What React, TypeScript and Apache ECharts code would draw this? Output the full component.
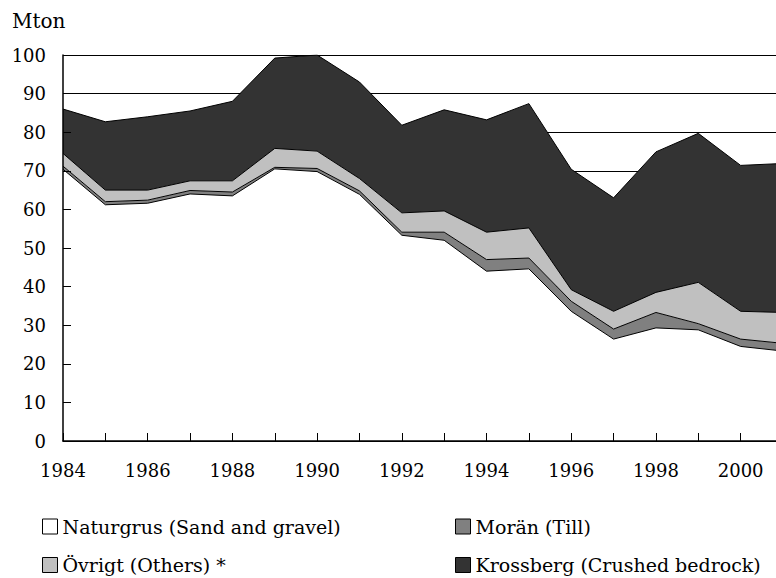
import React, { useEffect, useRef } from "react";
import * as echarts from "echarts";

const years = ["1984","1985","1986","1987","1988","1989","1990","1991","1992","1993","1994","1995","1996","1997","1998","1999","2000","2001"];
const naturgrus = [70.4, 61.2, 61.6, 64.0, 63.5, 70.5, 69.8, 63.9, 53.3, 52.0, 44.0, 44.6, 33.6, 26.4, 29.3, 28.8, 24.5, 23.3];
const moran = [0.8, 0.8, 0.8, 0.9, 1.0, 0.4, 0.8, 0.9, 0.8, 2.1, 3.0, 2.8, 2.6, 2.6, 4.0, 1.6, 1.9, 2.0];
const ovrigt = [3.3, 3.0, 2.6, 2.5, 2.9, 4.9, 4.5, 3.2, 5.0, 5.5, 7.1, 7.8, 3.0, 4.6, 5.2, 10.7, 7.2, 8.0];
const krossberg = [11.5, 17.7, 19.0, 18.1, 20.6, 23.4, 24.9, 25.0, 22.7, 26.2, 29.1, 32.2, 31.2, 29.4, 36.4, 38.6, 37.8, 38.6];

const names = ["Naturgrus (Sand and gravel)", "Morän (Till)", "Övrigt (Others) *", "Krossberg (Crushed bedrock)"];
const colors = ["#ffffff", "#808080", "#c0c0c0", "#333333"];

const FONT = "DejaVu Serif";

export default function App() {
  const ref = useRef<HTMLDivElement>(null);
  useEffect(() => {
    if (!ref.current) return;
    const chart = echarts.init(ref.current, undefined, { renderer: "svg" });
    const seriesData = [naturgrus, moran, ovrigt, krossberg];
    const legendItem = (i: number) => ({
      name: names[i],
      itemStyle: { color: colors[i], borderColor: "#000", borderWidth: 1 },
    });
    const legendBase = {
      orient: "vertical" as const,
      top: 517,
      height: 80,
      width: 330,
      padding: 0,
      itemWidth: 15,
      itemHeight: 15,
      itemGap: 19.5,
      icon: "rect",
      selectedMode: false,
      textStyle: { fontFamily: FONT, fontSize: 19, color: "#000" },
    };
    chart.setOption({
      animation: false,
      backgroundColor: "#fff",
      grid: { left: 63, right: -7, top: 55, bottom: 137, outerBoundsMode: "none" },
      graphic: [
        {
          type: "text",
          left: 12,
          top: 11,
          style: { text: "Mton", fontFamily: FONT, fontSize: 20, fill: "#000" },
        },
      ],
      legend: [
        { ...legendBase, left: 42, data: [legendItem(0), legendItem(2)] },
        { ...legendBase, left: 455, data: [legendItem(1), legendItem(3)] },
      ],
      xAxis: {
        type: "category",
        data: years,
        boundaryGap: false,
        z: 10,
        axisLine: { lineStyle: { color: "#000", width: 1.5 } },
        axisTick: { inside: true, length: 8, interval: 0, lineStyle: { color: "#000" } },
        axisLabel: { interval: 1, color: "#000", fontFamily: FONT, fontSize: 18, margin: 20 },
      },
      yAxis: [
        {
          type: "value",
          min: 0,
          max: 100,
          interval: 10,
          axisLine: { show: false },
          axisTick: { show: false },
          axisLabel: { show: false },
          splitLine: { show: true, lineStyle: { color: "#000", width: 1 } },
        },
        {
          type: "value",
          min: 0,
          max: 100,
          interval: 10,
          position: "left",
          z: 10,
          axisLine: { show: true, lineStyle: { color: "#000", width: 1.5 } },
          axisTick: { show: true, inside: true, length: 8, lineStyle: { color: "#000" } },
          axisLabel: { color: "#000", fontFamily: FONT, fontSize: 18, margin: 17 },
          splitLine: { show: false },
        },
      ],
      series: seriesData.map((d, i) => ({
        name: names[i],
        type: "line",
        stack: "total",
        yAxisIndex: 0,
        data: d,
        symbol: "none",
        itemStyle: { color: colors[i] },
        lineStyle: { color: "#000", width: 1 },
        areaStyle: { color: colors[i], opacity: 1 },
      })),
    });
    return () => chart.dispose();
  }, []);
  return (
    <div
      ref={ref}
      style={{ position: "fixed", left: 0, top: 0, width: 776, height: 578 }}
    />
  );
}
